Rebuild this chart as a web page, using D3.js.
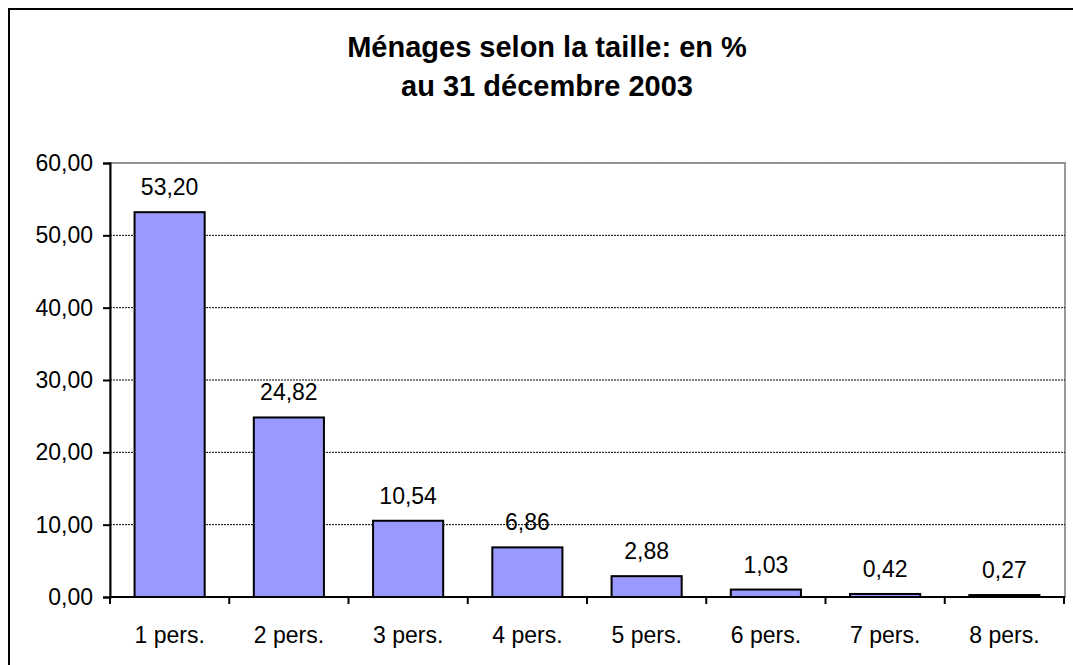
<!DOCTYPE html>
<html>
<head>
<meta charset="utf-8">
<script src="https://cdn.jsdelivr.net/npm/d3@7"></script>
<style>
    body { margin: 0; background: #fff; }
    text { font-family: "Liberation Sans", Arial, sans-serif; fill: #000; }
</style>
</head>
<body>
<div id="chart"></div>
<script>
const categories = ["1 pers.", "2 pers.", "3 pers.", "4 pers.", "5 pers.", "6 pers.", "7 pers.", "8 pers."];
const values = [53.20, 24.82, 10.54, 6.86, 2.88, 1.03, 0.42, 0.27];
const yTicks = [0, 10, 20, 30, 40, 50, 60];
const titleLines = ["Ménages selon la taille: en %", "au 31 décembre 2003"];

(function () {
    const width = 1073, height = 665;
    const margin = { left: 110, right: 8, top: 163, bottom: 68 };
    const fs = 23;
    const fmt = v => v.toFixed(2).replace(".", ",");

    const svg = d3.select("#chart")
        .append("svg")
        .attr("width", width)
        .attr("height", height);

    // outer frame
    svg.append("rect")
        .attr("x", 9)
        .attr("y", 9)
        .attr("width", width + 10)
        .attr("height", height + 10)
        .attr("fill", "none")
        .attr("stroke", "#000")
        .attr("stroke-width", 2);

    svg.append("g")
        .selectAll("text")
        .data(titleLines)
        .join("text")
        .attr("font-weight", "bold")
        .attr("font-size", 29)
        .attr("text-anchor", "middle")
        .attr("x", 547)
        .attr("y", (d, i) => 57 + i * 39)
        .text(d => d);

    const x = d3.scaleBand()
        .domain(categories)
        .range([margin.left, 1064])
        .paddingInner(0.412)
        .paddingOuter(0.206);

    const y = d3.scaleLinear()
        .domain([0, 60])
        .range([597, margin.top]);

    // plot area border (gray)
    svg.append("rect")
        .attr("x", margin.left)
        .attr("y", y(60))
        .attr("width", 1065 - margin.left)
        .attr("height", y(0) - y(60))
        .attr("fill", "none")
        .attr("stroke", "#999")
        .attr("stroke-width", 2);

    // gridlines
    svg.append("g")
        .selectAll("line")
        .data(yTicks.filter(d => d > 0))
        .join("line")
        .attr("x1", margin.left)
        .attr("x2", 1065)
        .attr("y1", d => y(d))
        .attr("y2", d => y(d))
        .attr("stroke", d => d === 60 ? "#888" : "#000")
        .attr("stroke-width", 1)
        .attr("stroke-dasharray", "2,1");

    // bars
    svg.append("g")
        .selectAll("rect")
        .data(values)
        .join("rect")
        .attr("x", (d, i) => x(categories[i]))
        .attr("y", d => y(d))
        .attr("width", x.bandwidth())
        .attr("height", d => y(0) - y(d))
        .attr("fill", "#9999FF")
        .attr("stroke", "#000")
        .attr("stroke-width", 2);

    // value labels
    svg.append("g")
        .selectAll("text")
        .data(values)
        .join("text")
        .attr("font-size", fs)
        .attr("text-anchor", "middle")
        .attr("x", (d, i) => x(categories[i]) + x.bandwidth() / 2)
        .attr("y", d => y(d) - 17)
        .text(d => fmt(d));

    // y axis
    svg.append("g")
        .attr("transform", `translate(${margin.left},0)`)
        .call(d3.axisLeft(y).tickValues(yTicks).tickFormat(fmt).tickSize(7).tickPadding(10))
        .call(g => {
            g.select(".domain").attr("stroke-width", 2);
            g.selectAll(".tick line").attr("stroke-width", 2);
            g.selectAll("text")
                .attr("font-size", fs)
                .attr("font-family", "Liberation Sans, Arial, sans-serif")
                .attr("fill", "#000");
        });

    // x axis
    const xEdges = d3.range(categories.length + 1).map(i => margin.left + i * x.step());
    const xa = svg.append("g");
    xa.append("line")
        .attr("x1", margin.left)
        .attr("x2", 1065)
        .attr("y1", y(0))
        .attr("y2", y(0))
        .attr("stroke", "#000")
        .attr("stroke-width", 2);
    xa.selectAll("line.tk")
        .data(xEdges)
        .join("line")
        .attr("class", "tk")
        .attr("x1", d => d)
        .attr("x2", d => d)
        .attr("y1", y(0))
        .attr("y2", y(0) + 7)
        .attr("stroke", "#000")
        .attr("stroke-width", 2);
    xa.selectAll("text")
        .data(categories)
        .join("text")
        .attr("font-size", fs)
        .attr("text-anchor", "middle")
        .attr("x", d => x(d) + x.bandwidth() / 2)
        .attr("y", 643)
        .text(d => d);
})();
</script>
</body>
</html>
